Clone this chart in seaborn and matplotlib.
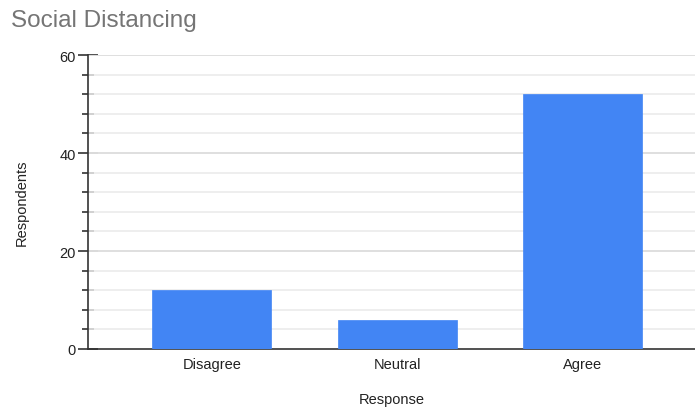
import matplotlib
matplotlib.use("Agg")
import matplotlib.pyplot as plt
import seaborn as sns
import pandas as pd

responses = ["Disagree", "Neutral", "Agree"]
respondents = [12, 6, 52]

sns.set_theme(style="white")
plt.rcParams["font.family"] = ["Liberation Sans", "DejaVu Sans"]

df = pd.DataFrame({"Response": responses, "Respondents": respondents})

fig = plt.figure(figsize=(6.95, 4.10), dpi=100)
ax = fig.add_axes([88 / 695, 1 - 350 / 410, 607 / 695, 294 / 410])

sns.barplot(data=df, x="Response", y="Respondents", color="#4285F4",
            saturation=1, width=0.643, ax=ax, zorder=3)
for p in ax.patches:
    p.set_edgecolor("#4285F4")
    p.set_linewidth(0.5)

ax.set_xlim(-0.67, 2.61)
ax.set_ylim(0, 60)
ax.set_yticks([0, 20, 40, 60])
ax.set_yticks(range(0, 61, 4), minor=True)

# light grid every 4, slightly stronger on the labelled values
for v in range(4, 61, 4):
    ax.axhline(v, color="#ebebeb", lw=1.2, zorder=1)
for v in (20, 40, 60):
    ax.axhline(v, color="#dcdcdc", lw=1.2, zorder=1)

for s in ("top", "right"):
    ax.spines[s].set_visible(False)
ax.spines["left"].set_color("#333333")
ax.spines["left"].set_linewidth(1.2)
ax.spines["bottom"].set_color("#333333")
ax.spines["bottom"].set_linewidth(1.2)

ax.tick_params(axis="y", which="major", direction="inout", length=14, width=1.2,
               color="#333333", labelsize=10.5, labelcolor="#222222", left=True, pad=2)
ax.tick_params(axis="y", which="minor", direction="inout", length=8, width=1.2,
               color="#333333", left=True)
ax.tick_params(axis="x", length=0, labelsize=10.5, labelcolor="#222222", pad=6)

ax.set_xlabel("Response", fontsize=10.5, color="#222222", labelpad=15)
ax.set_ylabel("Respondents", fontsize=10.5, color="#222222", labelpad=22)

fig.text(11 / 695, 1 - 21 / 410, "Social Distancing", fontsize=17.5,
         color="#757575", ha="left", va="center")

fig.savefig("out.png", dpi=100)
